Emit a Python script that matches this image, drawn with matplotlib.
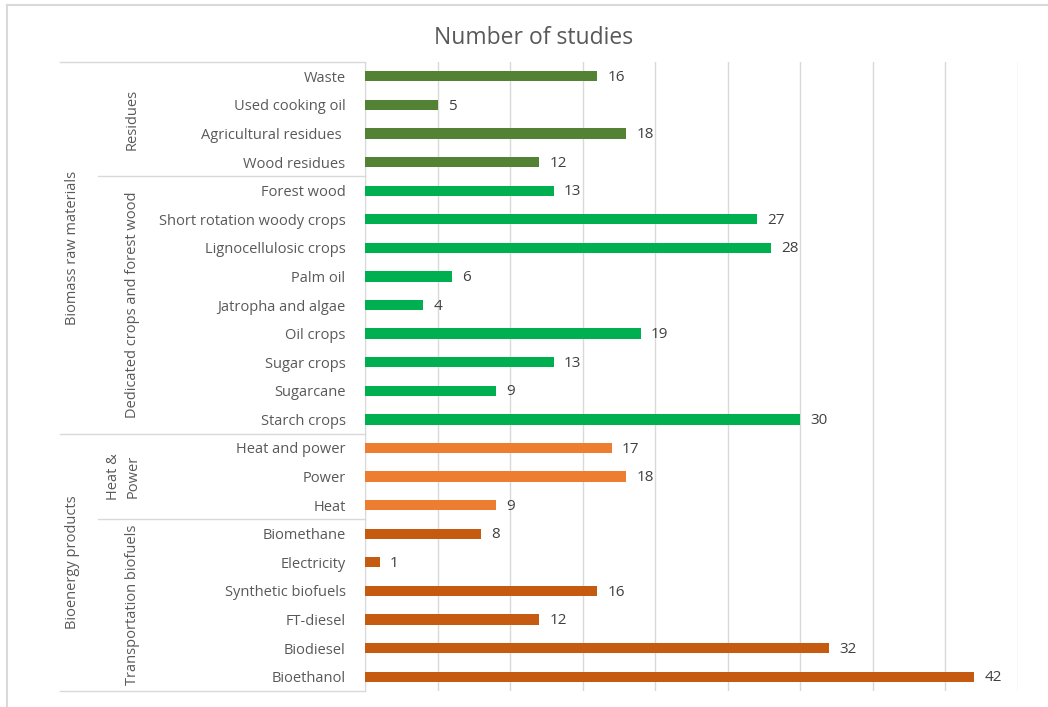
import matplotlib.pyplot as plt
from matplotlib.lines import Line2D
import numpy as np

# categories top to bottom
labels = ["Waste", "Used cooking oil", "Agricultural residues ", "Wood residues",
          "Forest wood", "Short rotation woody crops", "Lignocellulosic crops",
          "Palm oil", "Jatropha and algae", "Oil crops", "Sugar crops", "Sugarcane",
          "Starch crops",
          "Heat and power", "Power", "Heat",
          "Biomethane", "Electricity", "Synthetic biofuels", "FT-diesel",
          "Biodiesel", "Bioethanol"]
values = [16, 5, 18, 12,
          13, 27, 28, 6, 4, 19, 13, 9, 30,
          17, 18, 9,
          8, 1, 16, 12, 32, 42]
# sub groups: (name, first index, count)
subgroups = [("Residues", 0, 4),
             ("Dedicated crops and forest wood", 4, 9),
             ("Heat &\nPower", 13, 3),
             ("Transportation biofuels", 16, 6)]
groups = [("Biomass raw materials", 0, 13),
          ("Bioenergy products", 13, 9)]
sub_colors = ["#548235", "#00B050", "#ED7D31", "#C55A11"]

W, H = 1048, 707
fig = plt.figure(figsize=(W / 100, H / 100), dpi=100)
plt.rcParams['font.family'] = ['Open Sans', 'DejaVu Sans']

# outer chart frame
fig.add_artist(Line2D([7 / W, 7 / W], [0, 1 - 5 / H], transform=fig.transFigure,
                      color="#D9D9D9", lw=1.5))
fig.add_artist(Line2D([7 / W, 1], [1 - 5 / H, 1 - 5 / H], transform=fig.transFigure,
                      color="#D9D9D9", lw=1.5))

x0, x1, ytop, ybot = 365, 1018, 62, 691
ax = fig.add_axes([x0 / W, 1 - ybot / H, (x1 - x0) / W, (ybot - ytop) / H])

colors = []
for (name, start, n), c in zip(subgroups, sub_colors):
    colors += [c] * n

y = np.arange(len(labels))
ax.barh(y, values, height=0.36, color=colors, zorder=3)
for yi, v in zip(y, values):
    ax.text(v + 0.7, yi + 0.04, str(v), va="center", ha="left", fontsize=11, color="#404040")

ax.set_xlim(0, 45)
ax.set_ylim(len(labels) - 0.5, -0.5)
ax.set_xticks(np.arange(0, 46, 5))
ax.tick_params(axis="x", length=0, labelbottom=False)
ax.grid(axis="x", color="#D9D9D9", lw=1, zorder=0)
for s in ["top", "right", "bottom"]:
    ax.spines[s].set_visible(False)
ax.spines["left"].set_color("#D9D9D9")
ax.set_yticks(y)
ax.set_yticklabels(labels, fontsize=10.5, color="#595959")
ax.tick_params(axis="y", length=0, pad=14)

fig.text(534 / W, 1 - 38 / H, "Number of studies", ha="center", va="center",
         fontsize=16.5, color="#595959")

# multi-level category axis
def fy(idx):
    # figure fraction of boundary above category idx
    return 1 - (ytop + idx * (ybot - ytop) / len(labels)) / H

line_kw = dict(transform=fig.transFigure, color="#D9D9D9", lw=1)
fig.add_artist(Line2D([60 / W, x0 / W], [fy(0), fy(0)], **line_kw))
for name, start, n in subgroups[1:]:
    xs = 98 if start != 13 else 60
    fig.add_artist(Line2D([xs / W, x0 / W], [fy(start), fy(start)], **line_kw))
fig.add_artist(Line2D([60 / W, x0 / W], [fy(len(labels)), fy(len(labels))], **line_kw))

for name, start, n in subgroups:
    yc = (fy(start) + fy(start + n)) / 2
    xc = 123 if "\n" in name else 132
    fig.text(xc / W, yc, name, rotation=90, ha="center", va="center",
             fontsize=10.5, color="#595959", multialignment="center",
             linespacing=1.4)
for name, start, n in groups:
    yc = (fy(start) + fy(start + n)) / 2
    fig.text(72 / W, yc, name, rotation=90, ha="center", va="center",
             fontsize=10.5, color="#595959")

fig.savefig("out.png", dpi=100)
